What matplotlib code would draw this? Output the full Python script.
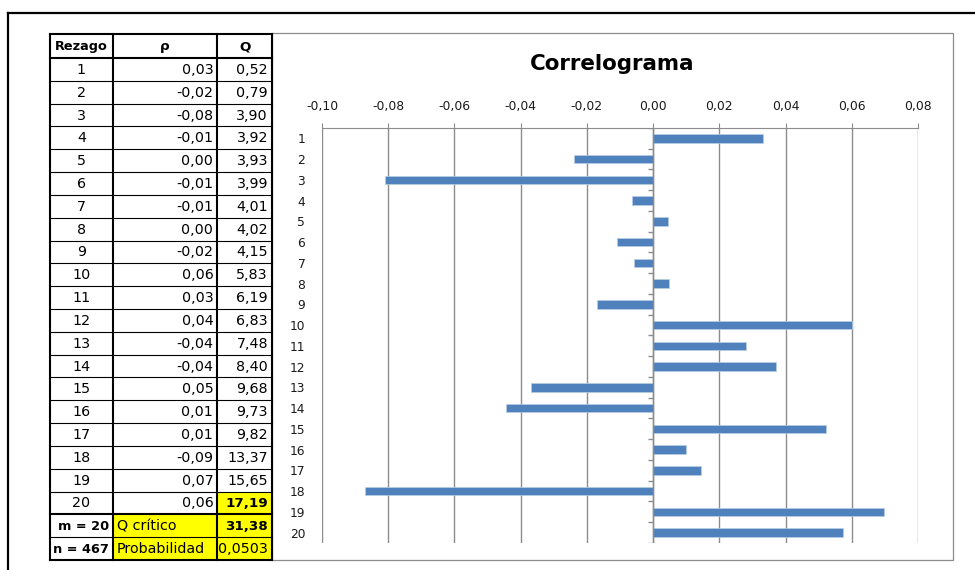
import numpy as np
import matplotlib.pyplot as plt
from matplotlib.patches import Rectangle
from matplotlib.lines import Line2D

plt.rcParams['font.family'] = ['DejaVu Sans']

# data
lags = np.arange(1, 21)
rho = [0.0332, -0.0238, -0.0810, -0.0065, 0.0044, -0.0110, -0.0058, 0.0048, -0.0168, 0.0601,
       0.0280, 0.0371, -0.0368, -0.0444, 0.0522, 0.0100, 0.0144, -0.0869, 0.0698, 0.0574]
q_vals = [0.52, 0.79, 3.90, 3.92, 3.93, 3.99, 4.01, 4.02, 4.15, 5.83,
          6.19, 6.83, 7.48, 8.40, 9.68, 9.73, 9.82, 13.37, 15.65, 17.19]
m = 20
n = 467
q_critico = 31.38
probabilidad = 0.0503
x_ticks = [-0.10, -0.08, -0.06, -0.04, -0.02, 0.00, 0.02, 0.04, 0.06, 0.08]


def coma(v, d=2):
    return f"{round(v, d) + 0.0:.{d}f}".replace('.', ',')


W, H = 975, 570
fig = plt.figure(figsize=(9.75, 5.7), dpi=100)


def px_axes(x0, y0, x1, y1):
    return fig.add_axes([x0 / W, 1 - y1 / H, (x1 - x0) / W, (y1 - y0) / H])


# outer frame (top and left)
fig.add_artist(Line2D([8 / W, 8 / W], [1 - 13 / H, 0], color='black', lw=1.6))
fig.add_artist(Line2D([8 / W, 1], [1 - 13 / H, 1 - 13 / H], color='black', lw=1.6))

# chart area box
fig.add_artist(Rectangle((272 / W, 1 - 560 / H), (953 - 272) / W, (560 - 33) / H,
                         facecolor='white', edgecolor='#8C8C8C', lw=0.9, zorder=0))
fig.text(612 / W, 1 - 70 / H, 'Correlograma', ha='center', va='baseline',
         fontsize=15.4, fontweight='bold')

# correlogram
ax = px_axes(322, 128, 918, 543)
grey = '#8C8C8C'
ax.barh(lags, rho, height=0.4, color='#4F81BD', edgecolor='#B9CDE5', lw=0.5, zorder=3)
ax.set_xlim(-0.10, 0.08)
ax.set_ylim(20.5, 0.5)
ax.set_xticks(x_ticks)
ax.set_xticklabels([coma(v) for v in x_ticks])
ax.xaxis.tick_top()
ax.tick_params(axis='x', length=3.6, color=grey, pad=7, labelsize=8.9, labelcolor='#1a1a1a')
ax.set_yticks(lags)
ax.set_yticklabels([str(l) for l in lags])
ax.tick_params(axis='y', length=0, pad=12, labelsize=8.8, labelcolor='#1a1a1a')
ax.grid(axis='x', color=grey, lw=1)
ax.set_axisbelow(True)
for s in ['left', 'right', 'bottom']:
    ax.spines[s].set_visible(False)
ax.spines['top'].set_color(grey)
ax.axvline(0, color=grey, lw=1, zorder=4)
ax.hlines(np.arange(0.5, 21), -0.0015, 0, color=grey, lw=1, zorder=4)

# table
tx = px_axes(50, 34, 272, 560)
tx.set_xlim(50, 272)
tx.set_ylim(560, 34)
tx.axis('off')
col_x = [50, 112.7, 217.3, 272]
row_y = [34, 58] + list(58 + (560 - 58) / 22 * np.arange(1, 23))
yellow = '#FFFF00'

rows = [[('Rezago', 'c', True, None), ('ρ', 'c', True, None), ('Q', 'c', True, None)]]
for i, l in enumerate(lags):
    last = i == len(lags) - 1
    rows.append([(str(l), 'c', False, None), (coma(rho[i]), 'r', False, None),
                 (coma(q_vals[i]), 'r', last, yellow if last else None)])
rows.append([(f'm = {m}', 'r', True, None), ('Q crítico', 'l', False, yellow),
             (coma(q_critico), 'r', True, yellow)])
rows.append([(f'n = {n}', 'r', True, None), ('Probabilidad', 'l', False, yellow),
             (coma(probabilidad, 4), 'r', False, yellow)])

for r, row in enumerate(rows):
    y0, y1 = row_y[r], row_y[r + 1]
    for c, (txt, al, bold, fill) in enumerate(row):
        x0, x1 = col_x[c], col_x[c + 1]
        if fill:
            tx.add_patch(Rectangle((x0, y0), x1 - x0, y1 - y0, facecolor=fill, lw=0, zorder=1))
        if al == 'c':
            xt, ha = (x0 + x1) / 2, 'center'
        elif al == 'r':
            xt, ha = x1 - 4, 'right'
        else:
            xt, ha = x0 + 4, 'left'
        size = 10.3
        if bold:
            size = 9.3 if c == 0 else 9.7
        tx.text(xt, (y0 + y1) / 2 + 0.5, txt, ha=ha, va='center', fontsize=size,
                fontweight='bold' if bold else 'normal', zorder=3, clip_on=False)

for k, y in enumerate(row_y):
    thick = k in (0, 1, 21, 23)
    tx.plot([col_x[0], col_x[-1]], [y, y], color='black', lw=1.5 if thick else 0.8,
            zorder=2, clip_on=False)
for x in col_x:
    tx.plot([x, x], [row_y[0], row_y[-1]], color='black', lw=1.5, zorder=2, clip_on=False)

fig.savefig('out.png', dpi=100, facecolor='white')
